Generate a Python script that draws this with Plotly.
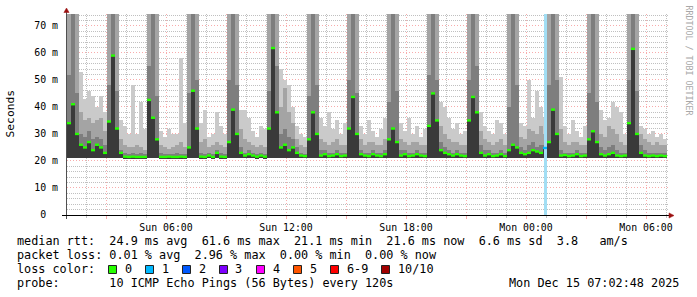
import plotly.graph_objects as go

# ---------------- data (hours since Sun 00:00, one column = 12 min) -------------
T0 = 1.15
STEP = 0.2
MIN_RTT = 21.0

median = [
    34, 41, 30, 26, 25, 27, 24, 26, 25, 23,
    34.6, 59, 32, 23, 21.6, 21.5, 21.6, 21.5, 21.5, 21.5,
    42.6, 36, 28, 21.5, 21.5, 21.6, 21.5, 21.5, 21.6, 21.5,
    25, 46, 32, 21.6, 21.5, 22, 21.5, 23, 21.6, 21.5,
    27, 39, 30, 23, 22, 22.5, 22, 21.6, 22, 21.6,
    32, 61.8, 38, 25, 26, 24, 25, 23, 22, 21.8,
    28, 38, 30, 22, 22.5, 21.8, 22, 22.5, 21.8, 22,
    32, 43.7, 30, 22.5, 22, 21.8, 22.5, 22, 21.8, 22.5,
    28, 32, 27, 22, 22.5, 21.8, 22, 22.5, 22, 21.8,
    33, 45, 35, 24, 23, 22.5, 22, 22.5, 22, 21.8,
    35, 43.7, 38, 23, 22, 22.5, 21.8, 22, 22.5, 21.8,
    24, 26, 25, 23, 22.5, 23, 24, 23.5, 23, 24.8,
    27, 39, 30, 22, 22.2, 21.8, 22, 22.5, 21.8, 22,
    28, 31, 27, 22.5, 22, 22.5, 23, 22, 21.8, 22,
    34, 61.5, 30, 23, 22, 21.8, 22, 21.8, 22, 21.8,
]
smoke_dark = [
    52, 75, 45, 30, 29, 31, 28, 29, 28, 26,
    48, 75, 46, 24, 23, 22.5, 23, 22.5, 23, 22.5,
    55, 75, 44, 23, 22.5, 22.5, 22.5, 23, 22.5, 22.5,
    45, 75, 50, 23, 22.5, 23, 22.5, 24, 23, 22.5,
    50, 75, 48, 25, 23, 24, 23, 22.5, 23, 22.5,
    46, 75, 55, 30, 32, 29, 28, 25, 23, 22.5,
    44, 75, 48, 24, 24, 23, 23, 24, 23, 23,
    50, 75, 45, 24, 23, 23, 24, 23, 23, 24,
    42, 75, 46, 24, 24, 23, 23, 24, 23, 23,
    52, 75, 50, 27, 25, 24, 23, 24, 23, 23,
    50, 75, 55, 26, 24, 24, 23, 23, 24, 23,
    40, 75, 48, 25, 24, 26, 27, 25, 26, 26,
    48, 75, 50, 24, 23, 23, 23, 24, 23, 23,
    45, 75, 42, 25, 24, 25, 26, 24, 23, 23,
    50, 75, 46, 26, 24, 23, 23, 23, 23, 23,
]
smoke_mid = [
    75, 75, 75, 38, 35, 36, 34, 35, 36, 31,
    75, 75, 75, 28, 26, 25, 25, 26, 25, 24,
    75, 75, 75, 26, 25, 24.5, 25, 26, 27, 25,
    75, 75, 75, 27, 28, 25, 26, 27, 26, 25,
    75, 75, 75, 32, 28, 27, 26, 25, 26, 25,
    75, 75, 75, 40, 47, 38, 34, 28, 26, 25,
    75, 75, 75, 28, 27, 26, 27, 28, 26, 26,
    75, 75, 75, 28, 26, 27, 27, 26, 26, 28,
    75, 75, 75, 28, 27, 26, 27, 27, 26, 26,
    75, 75, 75, 33, 30, 28, 27, 27, 26, 26,
    75, 75, 75, 31, 28, 27, 26, 27, 28, 26,
    75, 75, 75, 29, 28, 32, 31, 30, 33, 30,
    75, 75, 75, 32, 27, 26, 27, 27, 26, 26,
    75, 75, 75, 30, 29, 33, 32, 30, 27, 26,
    75, 75, 75, 30, 28, 27, 26, 27, 26, 26,
]
smoke_max = [
    75, 75, 75, 53, 43, 46, 44, 40, 44, 38,
    75, 75, 75, 35, 33, 30, 48, 30, 42, 32,
    75, 75, 75, 31, 29, 32, 30, 30, 58, 34,
    75, 75, 75, 34, 39, 29, 30, 38, 33, 30,
    75, 75, 75, 39, 39, 36, 31, 29, 33, 32,
    75, 75, 75, 54, 50, 48, 40, 33, 30, 29,
    75, 75, 75, 36, 33, 38, 32, 35, 30, 34,
    75, 75, 75, 33, 30, 35, 31, 29, 32, 36,
    75, 75, 75, 34, 31, 36, 30, 33, 29, 32,
    75, 75, 75, 42, 40, 36, 32, 34, 30, 31,
    75, 75, 75, 38, 33, 31, 30, 35, 34, 30,
    75, 75, 75, 34, 33, 50, 36, 46, 40, 36,
    75, 75, 75, 51, 33, 30, 35, 31, 29, 33,
    75, 75, 75, 39, 35, 36, 42, 40, 38, 30,
    75, 75, 75, 33, 32, 30, 31, 29, 30, 28,
]
# lost pings (out of 10) per column, keyed by column index
loss_events = {119: 1}

x_tickvals = [3, 6, 9, 12, 15, 18, 21, 24, 27, 30]
x_ticktext = ["", "Sun 06:00", "", "Sun 12:00", "", "Sun 18:00", "", "Mon 00:00", "", "Mon 06:00"]
y_tickvals = [0, 10, 20, 30, 40, 50, 60, 70]
y_ticktext = ["0  ", "10 m", "20 m", "30 m", "40 m", "50 m", "60 m", "70 m"]

loss_labels = ["0", "1", "2", "3", "4", "5", "6-9", "10/10"]
loss_colors = ["#26ff00", "#00b8ff", "#0059ff", "#7e00ff", "#ff00ff", "#ff5500", "#ff0000", "#a10000"]
loss_bg_colors = ["#ffffff", "#a2def4", "#99bdff", "#cfa3ff", "#ffa3ff", "#ffc2a3", "#ffa3a3", "#d9a3a3"]

legend_lines = [
    "median rtt:  24.9 ms avg  61.6 ms max  21.1 ms min  21.6 ms now  6.6 ms sd  3.8   am/s",
    "packet loss: 0.01 % avg  2.96 % max  0.00 % min  0.00 % now",
    "loss color:",
    "probe:       10 ICMP Echo Pings (56 Bytes) every 120s",
]
stamp = "Mon Dec 15 07:02:48 2025"

# ---------------- figure -------------
W, H = 697, 297
L, R, T, B = 67, 29, 14, 82
PW, PH = W - L - R, H - T - B
MONO = "DejaVu Sans Mono"
NB = "\u00a0"


def px2x(px):
    return (px - L) / PW


def py2y(py):
    return (T + PH - py) / PH


def nb(s):
    return s.replace(" ", NB)


times = [T0 + i * STEP for i in range(len(median))]

fig = go.Figure()
layers = [(smoke_max, "#cacaca"), (smoke_mid, "#a4a4a4"), (smoke_dark, "#7e7e7e"), (median, "#3a3a3a")]
for top, col in layers:
    fig.add_trace(go.Bar(x=times, y=[v - MIN_RTT for v in top], base=MIN_RTT, width=STEP,
                         marker=dict(color=col, line=dict(width=0)), hoverinfo="skip", showlegend=False))


def loss_index(i):
    n = loss_events.get(i, 0)
    if n >= 10:
        return 7
    return min(n, 6)


# loss background
for idx in loss_events:
    fig.add_trace(go.Bar(x=[times[idx]], y=[80], base=0, width=STEP * 0.75,
                         marker=dict(color=loss_bg_colors[loss_index(idx)], line=dict(width=0)),
                         hoverinfo="skip", showlegend=False))

groups = {}
for i, (t, m) in enumerate(zip(times, median)):
    g = groups.setdefault(loss_index(i), ([], []))
    g[0].extend([t - STEP / 2, t + STEP / 2, None])
    g[1].extend([m, m, None])
for ci, (xs, ys) in groups.items():
    fig.add_trace(go.Scatter(x=xs, y=ys, mode="lines", line=dict(color=loss_colors[ci], width=2.4),
                             hoverinfo="skip", showlegend=False, cliponaxis=True))

MAJ = "rgba(240,70,70,0.45)"
MIN = "rgba(150,150,150,0.6)"
fig.update_layout(
    width=W, height=H, margin=dict(l=L, r=R, t=T, b=B, pad=0),
    paper_bgcolor="white", plot_bgcolor="white", barmode="overlay", bargap=0,
    showlegend=False,
    font=dict(family=MONO, color="#000"),
    xaxis=dict(range=[1.05, 31.1], tickmode="array", tickvals=x_tickvals, ticktext=x_ticktext,
               showgrid=True, gridcolor=MAJ, griddash="1px,2px", gridwidth=1,
               ticks="outside", ticklen=3, tickcolor=MAJ, tickwidth=1,
               minor=dict(tickmode="array", tickvals=[h for h in range(2, 32) if h % 3],
                          showgrid=True, gridcolor=MIN, griddash="1px,1px", gridwidth=1,
                          ticks="outside", ticklen=2, tickcolor=MIN),
               showline=False, zeroline=False, tickfont=dict(family=MONO, size=9.9, color="#000"),
               ticklabelstandoff=0, fixedrange=True),
    yaxis=dict(range=[0, 74.4], tickmode="array", tickvals=y_tickvals, ticktext=[nb(s) for s in y_ticktext],
               showgrid=True, gridcolor=MAJ, griddash="1px,2px", gridwidth=1,
               minor=dict(tickmode="array", tickvals=[v for v in range(2, 75, 2) if v % 10],
                          showgrid=True, gridcolor=MIN, griddash="1px,1px", gridwidth=1),
               ticks="", showline=False, zeroline=False,
               tickfont=dict(family=MONO, size=9.9, color="#000"), ticklabelstandoff=8, fixedrange=True),
)

shapes = []
# axis lines
shapes.append(dict(type="line", xref="paper", yref="paper", x0=px2x(66.5), x1=px2x(66.5),
                   y0=py2y(219), y1=py2y(12), line=dict(color="#505050", width=1)))
shapes.append(dict(type="line", xref="paper", yref="paper", x0=px2x(62), x1=px2x(669),
                   y0=py2y(215.5), y1=py2y(215.5), line=dict(color="#000000", width=1)))
# arrows
shapes.append(dict(type="path", xref="paper", yref="paper", xsizemode="pixel", ysizemode="pixel",
                   xanchor=px2x(66.5), yanchor=py2y(12.5), path="M -2.6,0 L 2.6,0 L 0,4.5 Z",
                   fillcolor="#9b1010", line=dict(color="#9b1010", width=0.5)))
shapes.append(dict(type="path", xref="paper", yref="paper", xsizemode="pixel", ysizemode="pixel",
                   xanchor=px2x(669), yanchor=py2y(215.5), path="M 0,-2.6 L 0,2.6 L 5,0 Z",
                   fillcolor="#9b1010", line=dict(color="#9b1010", width=0.5)))

annotations = []
LEG_Y = [241, 255, 269, 283]
for txt, yy in zip(legend_lines, LEG_Y):
    annotations.append(dict(text=nb(txt), x=px2x(15), y=py2y(yy), xref="paper", yref="paper",
                            xanchor="left", yanchor="middle", showarrow=False,
                            font=dict(family=MONO, size=11.8, color="#000")))
annotations.append(dict(text=nb(stamp), x=px2x(681), y=py2y(LEG_Y[3]), xref="paper", yref="paper",
                        xanchor="right", yanchor="middle", showarrow=False,
                        font=dict(family=MONO, size=11.8, color="#000")))
box_x = [108.5, 145.5, 182.5, 219.5, 256.5, 293.5, 330.5, 381.5]
for bx, lab, col in zip(box_x, loss_labels, loss_colors):
    shapes.append(dict(type="rect", xref="paper", yref="paper", x0=px2x(bx), x1=px2x(bx + 8),
                       y0=py2y(273.5), y1=py2y(265.5), fillcolor=col, line=dict(color="#222", width=1)))
    annotations.append(dict(text=nb(lab), x=px2x(bx + 14), y=py2y(269), xref="paper", yref="paper",
                            xanchor="left", yanchor="middle", showarrow=False,
                            font=dict(family=MONO, size=11.8, color="#000")))
annotations.append(dict(text="Seconds", x=px2x(10), y=py2y(113.5), xref="paper", yref="paper",
                        xanchor="center", yanchor="middle", textangle=-90, showarrow=False,
                        font=dict(family=MONO, size=11.3, color="#000")))
annotations.append(dict(text=nb("RRDTOOL / TOBI OETIKER"), x=px2x(688.5), y=py2y(60), xref="paper", yref="paper",
                        xanchor="center", yanchor="middle", textangle=90, showarrow=False,
                        font=dict(family=MONO, size=8.3, color="#a8a8a8")))
fig.update_layout(shapes=shapes, annotations=annotations)

fig.write_html("out.html")
